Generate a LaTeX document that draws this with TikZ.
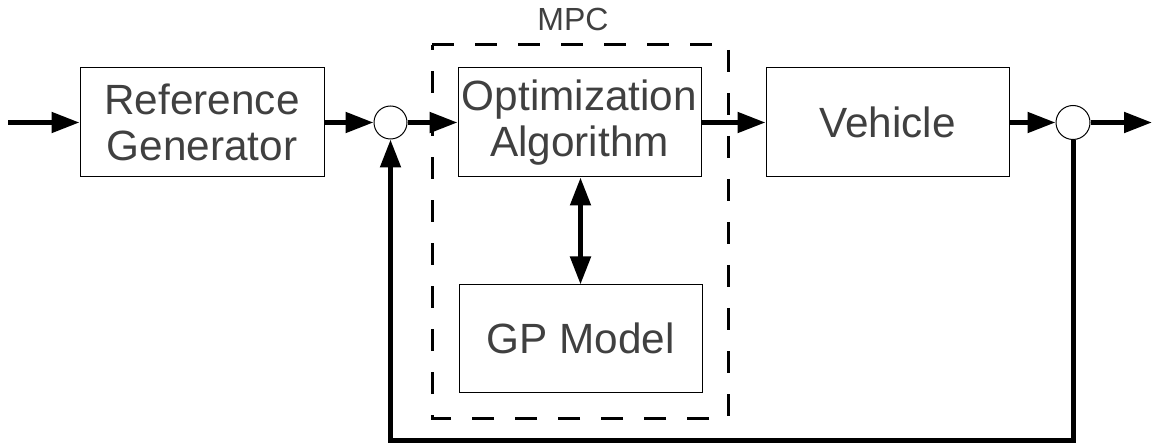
\documentclass[tikz,border=0pt]{standalone}
\usepackage{fontspec}
\setmainfont{Liberation Sans}
\usetikzlibrary{arrows.meta,calc}
\definecolor{txt}{HTML}{404040}
\begin{document}
\begin{tikzpicture}[x=1pt,y=-1pt,
  blk/.style={draw=black,line width=1pt,rectangle,inner sep=0pt,text=txt,
    font=\fontsize{42.3}{46}\selectfont,align=center,minimum width=243pt,minimum height=109pt},
  sumc/.style={draw=black,line width=1pt,circle,inner sep=0pt,minimum size=33pt},
  sig/.style={line width=5pt,-{Triangle[length=28pt,width=20pt]}},
  sigd/.style={line width=5pt,{Triangle[length=28pt,width=20pt]}-{Triangle[length=28pt,width=20pt]}},
  fb/.style={line width=5pt},
  mpcbox/.style={line width=3pt,dash pattern=on 22pt off 21pt}]
\useasboundingbox (0,0) rectangle (1154,446);
\node[blk,minimum width=244pt] (rg) at (202,122.5) {Reference\\Generator};
\node[sumc] (s1) at (390.5,122.5) {};
\node[blk] (opt) at (579.5,122.5) {Optimization\\Algorithm};
\node[blk,minimum height=107pt] (gp) at (580.5,338.5) {GP Model};
\node[blk] (veh) at (887.5,122.5) {Vehicle};
\node[sumc,minimum size=34pt] (s2) at (1073,122.5) {};
\draw[mpcbox] (432,45) -- (728,45) -- (728,418) -- (432,418) -- cycle;
\node[text=txt,font=\fontsize{32}{35}\selectfont] (mpc) at (573,19) {MPC};
\coordinate (in) at (8,122.5);
\coordinate (out) at (1152,122.5);
\coordinate (fbr) at (1073,440);
\coordinate (fbl) at (390.5,440);
\draw[sig] (in) -- (rg.west);
\draw[sig] (rg.east) -- (s1.west);
\draw[sig] (s1.east) -- (opt.west);
\draw[sig] (opt.east) -- (veh.west);
\draw[sig] (veh.east) -- (s2.west);
\draw[sig] (s2.east) -- (out);
\draw[sigd] (opt.south -| gp.north) -- (gp.north);
\draw[fb,line join=miter] (s2.south) -- (fbr) -- (fbl) -- ($(s1.south)+(0,27)$);
\draw[sig] ($(s1.south)+(0,29)$) -- (s1.south);
\end{tikzpicture}
\end{document}
